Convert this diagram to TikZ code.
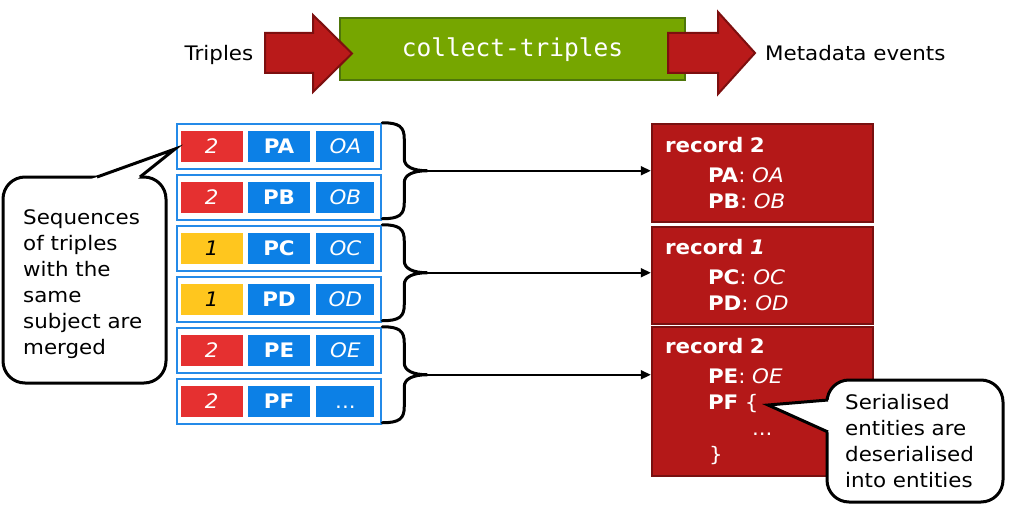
\documentclass[tikz,border=0pt]{standalone}
\usepackage{fontspec}
\setmainfont{DejaVu Sans}[FakeStretch=1.07]
\setmonofont{DejaVu Sans Mono}
\usepackage{tikz}
\usetikzlibrary{positioning,arrows.meta}

\definecolor{cellred}{RGB}{229,48,48}
\definecolor{cellyellow}{RGB}{255,198,30}
\definecolor{cellblue}{RGB}{12,128,230}
\definecolor{rowblue}{RGB}{36,138,232}
\definecolor{recred}{RGB}{180,24,24}
\definecolor{recedge}{RGB}{120,16,16}
\definecolor{arrowred}{RGB}{185,26,26}
\definecolor{arrowedge}{RGB}{125,15,15}
\definecolor{procgreen}{RGB}{118,166,0}
\definecolor{procedge}{RGB}{78,118,10}

\begin{document}
\begin{tikzpicture}[x=1pt, y=-1pt, font=\fontsize{20}{26}\selectfont,
    txt/.style = {inner sep=0pt, align=left},
    row/.style = {draw=rowblue, line width=2.5pt, fill=white, minimum width=204pt, minimum height=45pt, inner sep=0pt},
    cell/.style = {inner sep=0pt, minimum height=31pt, text height=14.5pt, text depth=0pt, text=white},
    subj/.style = {cell, fill=cellred, minimum width=62pt, font=\fontsize{20}{26}\selectfont\itshape},
    subjone/.style = {subj, fill=cellyellow, text=black},
    pred/.style = {cell, fill=cellblue, minimum width=62pt, font=\fontsize{20}{26}\selectfont\bfseries},
    obj/.style = {cell, fill=cellblue, minimum width=58pt, font=\fontsize{20}{26}\selectfont\itshape},
    brace/.style = {line width=3pt, line cap=round},
    link/.style = {line width=2.2pt, -{Triangle[length=10pt,width=9pt]}},
    rec/.style = {draw=recedge, line width=2.5pt, fill=recred, text=white, text width=195pt, inner xsep=13pt, inner ysep=0pt, minimum width=221pt, align=left},
    bigarrow/.style = {fill=arrowred, draw=arrowedge, line width=2pt, line join=miter},
    procbox/.style = {draw=procedge, fill=procgreen, line width=2.5pt, minimum width=345pt, minimum height=62pt, text=white, text height=16pt, text depth=0pt, font=\fontsize{24.5}{28}\selectfont\ttfamily},
    note/.style = {draw=black, line width=3pt, fill=white, rounded corners=22pt}]
    \useasboundingbox (0,0) rectangle (1009,511);

    % pipeline
    \node[procbox] (collect) at (512.5,49) {collect-triples};
    \draw[bigarrow] (265,33) -- (313,33) -- (313,15) -- (352,53.5) -- (313,92) -- (313,73) -- (265,73) -- cycle;
    \draw[bigarrow] (668,33) -- (718,33) -- (718,12) -- (755,53) -- (718,94) -- (718,73) -- (668,73) -- cycle;
    \node[txt, anchor=base] (input) at (219,60) {Triples};
    \node[txt, anchor=base west] (output) at (765,60) {Metadata events};

    % triples
    \node[row] (r1) at (279,146.5) {};
    \node[row] (r2) at (279,197.5) {};
    \node[row] (r3) at (279,248.5) {};
    \node[row] (r4) at (279,299.5) {};
    \node[row] (r5) at (279,350.5) {};
    \node[row] (r6) at (279,401.5) {};
    \node[pred] (p1) at (r1) {PA};
    \node[pred] (p2) at (r2) {PB};
    \node[pred] (p3) at (r3) {PC};
    \node[pred] (p4) at (r4) {PD};
    \node[pred] (p5) at (r5) {PE};
    \node[pred] (p6) at (r6) {PF};
    \node[subj]    (s1) [left=5pt of p1] {2};
    \node[subj]    (s2) [left=5pt of p2] {2};
    \node[subjone] (s3) [left=5pt of p3] {1};
    \node[subjone] (s4) [left=5pt of p4] {1};
    \node[subj]    (s5) [left=5pt of p5] {2};
    \node[subj]    (s6) [left=5pt of p6] {2};
    \node[obj] (o1) [right=6pt of p1] {OA};
    \node[obj] (o2) [right=6pt of p2] {OB};
    \node[obj] (o3) [right=6pt of p3] {OC};
    \node[obj] (o4) [right=6pt of p4] {OD};
    \node[obj] (o5) [right=6pt of p5] {OE};
    \node[obj] (o6) [right=6pt of p6] {\upshape...};

    % records
    \node[rec, minimum height=98pt] (rec1) at (762.5,173)
        {\textbf{record 2}\\[4pt]\hspace*{43pt}\textbf{PA}: \textit{OA}\\\hspace*{43pt}\textbf{PB}: \textit{OB}};
    \node[rec, minimum height=97pt] (rec2) at (762.5,275.5)
        {\textbf{record \textit{1}}\\[4pt]\hspace*{43pt}\textbf{PC}: \textit{OC}\\\hspace*{43pt}\textbf{PD}: \textit{OD}};
    \node[rec, minimum height=149pt] (rec3) at (762.5,401.5)
        {\textbf{record 2}\\[4pt]\hspace*{43pt}\textbf{PE}: \textit{OE}\\\hspace*{43pt}\textbf{PF} \{\\\hspace*{87pt}...\\\hspace*{44pt}\}};

    % braces
    \draw[brace] (r1.north east) .. controls +(17,0) and +(0,-12) .. ++(22,16) -- ++(0,20)
        .. controls +(0,8) and +(-14,0) .. ++(23,12) coordinate (t1)
        .. controls +(-14,0) and +(0,-8) .. ++(-23,12) -- ++(0,20)
        .. controls +(0,12) and +(17,0) .. ++(-22,16);
    \draw[brace] (r3.north east) .. controls +(17,0) and +(0,-12) .. ++(22,16) -- ++(0,20)
        .. controls +(0,8) and +(-14,0) .. ++(23,12) coordinate (t2)
        .. controls +(-14,0) and +(0,-8) .. ++(-23,12) -- ++(0,20)
        .. controls +(0,12) and +(17,0) .. ++(-22,16);
    \draw[brace] (r5.north east) .. controls +(17,0) and +(0,-12) .. ++(22,16) -- ++(0,20)
        .. controls +(0,8) and +(-14,0) .. ++(23,12) coordinate (t3)
        .. controls +(-14,0) and +(0,-8) .. ++(-23,12) -- ++(0,20)
        .. controls +(0,12) and +(17,0) .. ++(-22,16);
    \draw[link] (t1) -- (t1 -| rec1.west);
    \draw[link] (t2) -- (t2 -| rec2.west);
    \draw[link] (t3) -- (t3 -| rec3.west);

    % callouts
    \draw[note] (3,177) rectangle (166,383);
    \fill[white] (88.6,180) -- (175,149) -- (136.25,180) -- cycle;
    \draw[line width=3pt, line join=miter] (97,177) -- (175,149) -- (140,177);
    \node[txt, anchor=west] (merged) at (23,284)
        {Sequences\\of triples\\with the\\same\\subject are\\merged};

    \draw[note] (827,380) rectangle (1003,502);
    \fill[white] (831,399.75) -- (768,405) -- (831,433.35) -- cycle;
    \draw[line width=3pt, line join=miter] (828,400) -- (768,405) -- (828,432);
    \node[txt, anchor=west] (serial) at (845,441)
        {Serialised\\entities are\\deserialised\\into entities};
\end{tikzpicture}
\end{document}
